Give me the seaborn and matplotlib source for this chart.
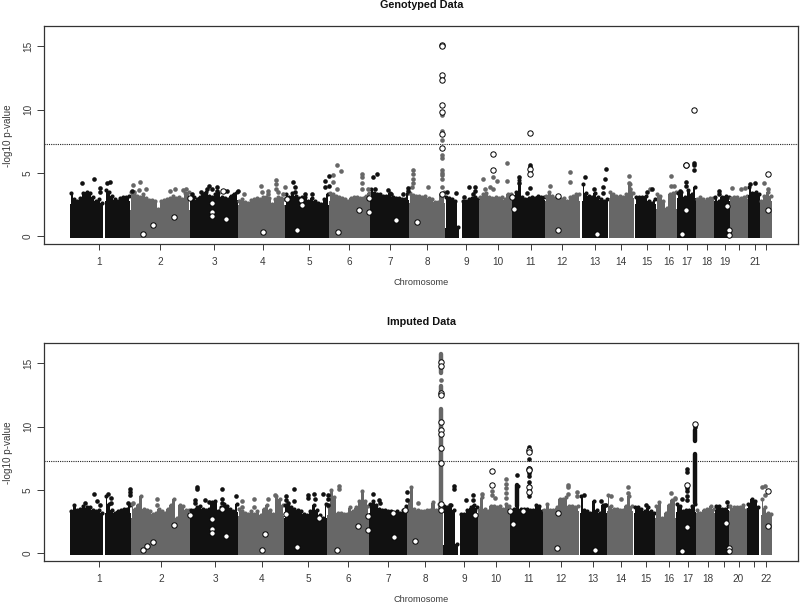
import numpy as np
import pandas as pd
import matplotlib.pyplot as plt
import seaborn as sns

# genome axis is in arbitrary cumulative units, y is -log10 p
chrom_labels = ['1','2','3','4','5','6','7','8','9','10','11','12','13','14','15','16','17','18','19','','21','']
chrom_labels_imp = ['1','2','3','4','5','6','7','8','9','10','11','12','13','14','15','16','17','18','','20','','22']
ticks_geno = [99,160,214,263,309,349,390,427,466,497.5,531,562,595,621,647,669,687,707,725,739,755,766]
ticks_imp = [99,161,215,262,308,348,388,425,464,496,529,561,593,620.5,646,669,687.5,708,724,738.5,754,766]
yticks = [0,5,10,15]
threshold = 7.3

# chromosome number of each contiguous block (1 and 9 have a centromere gap)
seg_chrom = [1,1,2,3,4,5,6,7,8,9,9,10,11,12,13,14,15,16,17,18,19,20,21,22]

geno_start = [70,105,130,189.5,238,285,328.5,370,409,445,462,479,512,545,581.5,608.5,635,656,677,696,714,730,748,760]
geno_end = [103,130,189.5,238,285,328.5,370,409,445,459,479,512,545,580,608,634,656,677,696,714,730,748,760,772]
geno_tops = [
    [3.5,3.0,2.9,3.1,3.5,3.6,3.5,3.2,2.9,3.0,2.7],
    [3.7,3.6,3.3,3.0,2.9,3.1,3.2,3.2,3.3],
    [3.6,3.4,3.3,3.2,3.4,3.1,2.95,2.95,2.9,2.2,2.9,2.95,3.0,3.1,3.3,3.1,3.2,3.0,3.5,3.6],
    [3.0,3.2,3.0,3.2,3.4,3.6,3.3,3.2,3.4,3.5,3.2,3.1,3.0,3.3,3.4,3.6],
    [2.9,3.0,2.8,2.7,2.95,3.0,3.1,3.0,3.2,3.2,3.1,2.6,3.0,3.2,3.1,3.0],
    [3.4,3.2,3.5,3.3,3.1,3.2,3.2,2.9,3.1,2.9,2.7,2.6,3.0,3.4],
    [3.5,3.4,3.3,3.2,3.1,3.0,2.9,3.1,3.2,3.2,3.1,3.1,3.3,3.5],
    [3.8,3.5,3.4,3.4,3.3,3.3,3.5,3.2,3.1,3.1,3.0,3.0,3.5],
    [3.5,3.35,3.3,3.3,3.2,3.3,3.1,3.0,2.8,2.8,3.4,3.6],
    [3.2,3.1,3.0,2.9,0.8],
    [2.9,2.9,3.0,3.1,3.2,3.0],
    [3.2,3.4,3.5,3.2,3.1,3.2,3.1,3.2,3.0,3.4,3.4],
    [3.2,3.6,4.5,3.2,3.0,3.1,3.2,3.1,3.3,3.2,3.2],
    [3.3,3.6,3.3,3.1,3.1,3.0,3.1,2.9,3.2,3.3,3.4,3.4],
    [4.2,3.5,3.3,3.2,3.5,3.2,3.0,2.9,3.0],
    [3.6,3.4,3.3,3.3,3.2,3.4,4.2,3.5],
    [3.2,3.2,3.2,3.3,2.9,2.7,3.0],
    [3.4,3.3,2.9,2.3,3.4,3.5,3.6],
    [3.5,3.6,3.2,3.7,3.4,4.0],
    [3.0,3.2,3.0,3.0,3.1,3.1],
    [3.2,2.9,3.2,3.3,3.2],
    [3.1,3.2,3.2,3.1,3.2,3.3],
    [4.0,3.5,3.6,3.4],
    [2.9,3.3,3.6,3.3],
]

imp_start = [70,105,130.7,189.5,237.5,283.7,327.3,369.3,407.3,443.3,460.3,477.7,510.3,543.3,580,607,634,655,676,696,715,729.3,747.3,760.7]
imp_end = [103,130.7,189.5,237.5,283.7,327.3,369.3,407.3,443.3,458,477.7,510.3,543.3,579,607,632.7,655,676,696,715,729.3,747.3,759.3,772]
imp_tops = [
    [3.4,3.9,3.5,3.6,3.8,3.7,3.7,3.5,3.4,3.5,3.3],
    [4.6,4.0,3.5,3.3,3.4,3.5,3.6,3.6,3.9],
    [4.0,3.6,3.9,4.6,3.6,3.5,3.4,3.2,3.3,3.6,3.4,3.3,3.6,3.9,4.4,2.9,3.9,3.8,3.5,3.5],
    [3.5,3.5,3.7,3.8,3.6,3.5,3.6,4.1,4.2,3.4,3.7,4.0,3.8,3.6,3.4,4.0],
    [3.6,3.4,3.3,3.2,3.4,3.2,3.4,3.1,3.6,3.9,3.5,3.2,4.6,4.4,3.9],
    [3.9,3.8,3.7,3.6,3.5,3.4,3.2,3.1,3.4,3.9,3.5,3.1,2.9,4.0],
    [3.8,5.1,4.5,3.3,3.3,3.2,3.2,3.7,3.4,3.7,4.2,5.0,4.2,3.8],
    [4.0,4.2,3.9,3.6,3.5,3.5,3.4,3.4,3.3,3.4,3.3,3.5,3.8],
    [4.3,5.3,3.6,3.5,3.4,3.4,3.5,3.5,4.1,3.5,4.0,3.8],
    [3.8,3.7,3.9,3.5,0.8],
    [3.2,3.2,3.5,3.7,3.9,3.7],
    [3.5,4.5,3.6,3.4,3.8,3.8,3.7,3.8,3.6,4.0,3.8],
    [3.4,3.6,5.4,3.6,3.6,3.6,3.5,3.5,3.9,3.8,3.4],
    [3.5,4.0,3.5,3.5,3.7,4.4,4.4,4.5,3.8,3.8,3.7,3.8],
    [4.6,3.5,3.4,3.3,4.2,3.5,3.3,3.9,3.9],
    [4.7,3.8,3.6,3.6,3.5,3.5,3.8,4.6,3.8],
    [3.7,3.7,3.6,3.4,3.7,3.4,3.3],
    [3.8,4.1,2.9,3.3,3.9,4.3,4.4],
    [4.0,3.8,3.4,3.5,3.5,3.8,4.0],
    [3.5,3.3,3.5,3.6,3.8,3.6],
    [3.8,3.8,3.6,3.6,3.8],
    [3.8,3.7,3.7,3.7,3.9,3.5],
    [4.0,4.4,4.2,3.7],
    [4.4,3.7,3.3,3.2],
]

# stray SNPs above the main mass
geno_black_x = [82.3,93.7,100,99.7,107,110.3,131.7,191.7,201,209.3,206.7,212,217.3,217.3,226.7,238,293.3,295,295,305,311.7,325,325,329.3,329.3,373.3,376.7,375,388.3,390.7,403,408,408,446.7,455.7,464.3,469.3,475,475,472.7,519,519,530,530,530,526.7,585.3,594,603.3,603.3,604.7,606,647.3,652.3,686,686,694.3,694.3,694.3,680,719,719,755.3,750]
geno_black_y = [4.2,4.5,3.85,3.5,4.2,4.3,3.6,3.35,3.5,4.0,3.7,3.7,3.9,3.6,3.55,3.6,4.3,3.9,3.5,3.3,3.35,4.4,3.9,4.0,4.75,4.7,4.95,3.75,3.65,3.35,3.3,3.85,3.6,3.5,3.45,3.1,3.9,3.9,3.6,3.35,4.7,4.2,5.6,5.45,3.8,3.4,4.7,3.75,3.9,3.4,4.5,5.3,3.5,3.75,4.3,4.0,5.75,5.6,5.25,3.6,3.6,3.3,4.2,4.1]
geno_grey_x = [133,140.3,139.3,145.7,133.7,170,175,182.7,186,244.3,260.7,261.7,268.3,268.3,276,276,276,278.3,285.3,283,337.3,340.7,333.3,333.3,336.7,362.3,362.3,362.3,362.3,368.3,413.3,413.3,413.3,412.7,411.7,428.3,442,442,442,442,442,442,442,442,442,442,483.3,485,492.7,496.7,506.7,506.7,490,493.3,570,570,550,630,630,629.3,629.3,650,670.7,670.7,674,731.7,741,745,764.3,768.3]
geno_grey_y = [4.05,4.25,3.65,3.75,3.5,3.6,3.7,3.65,3.7,3.35,4.0,3.5,3.6,3.35,4.45,4.15,3.75,3.5,3.9,3.3,5.65,5.15,4.8,4.3,3.7,4.9,4.7,4.2,3.7,3.75,5.2,4.95,4.55,4.2,3.9,3.9,9.55,8.3,7.6,6.4,6.15,5.2,5.0,4.8,4.5,3.9,4.5,3.7,4.7,4.35,5.8,4.4,3.9,3.75,5.1,4.25,4.0,3.7,3.5,4.75,4.2,3.7,4.75,4.0,4.0,3.8,3.75,3.85,4.2,3.75]
geno_hit_x = [142.7,152.7,174,190,212,212,212,225.7,222.7,263,297.3,286.7,300.7,301.7,338.3,359,369.3,369.3,396,416.7,442,442,442,442,442,442,442,442,442,492.7,492.7,511.7,513.7,530,530,530,558.3,557.7,596.7,686,686,686,681.7,694.3,726.7,729.3,729.3,768.3,767.7]
geno_hit_y = [0.15,0.87,1.5,3.05,2.65,1.9,1.6,1.4,3.55,0.37,0.53,2.95,2.9,2.5,0.35,2.05,3.0,1.9,1.3,1.13,15.1,15.0,12.75,12.35,10.35,9.8,8.05,6.95,3.35,6.5,5.25,3.1,2.15,8.15,5.3,4.9,3.15,0.5,0.15,5.6,5.6,2.1,0.15,9.95,2.4,0.5,0.1,4.95,2.1]

imp_black_x = [93.7,85.3,97.3,100,107.7,111,111,130,130,130,128.3,197.3,197.3,195.3,195.3,205,221.7,221.7,221.7,236,209.3,286,286,288.3,294.3,294.3,308.3,308.3,313.7,315,323.3,328.3,328.3,328.3,372.7,379.3,380,407.3,407.3,454,454,450,465.7,473.3,473.3,517.3,528.7,528.7,528.7,528.7,528.7,528.7,528.7,528.7,528.7,528.7,583.7,601.3,605,646,686.7,686.7,686.7,686.7,686.7,686.7,681.7,695,726.7]
imp_black_y = [4.65,4.0,4.1,3.8,4.65,4.4,4.0,5.1,4.85,4.6,4.0,5.25,5.1,4.2,4.0,4.2,5.1,4.3,4.0,4.5,4.05,4.55,4.2,4.0,5.1,4.1,4.6,4.35,4.65,4.3,4.7,4.6,4.25,3.85,4.7,4.2,4.0,4.85,4.2,5.3,5.1,3.85,4.2,4.6,4.2,6.15,8.4,8.0,7.45,6.75,6.35,6.1,5.65,5.3,4.9,4.55,4.6,4.1,3.85,3.8,6.65,6.4,5.15,4.9,4.5,4.2,4.25,10.0,4.05]
imp_grey_x = [157,157,133.3,241.7,241.7,254,254,268.3,275,339,339,418.3,440.7,481.7,495,505.7,505.7,505.7,505.7,505.7,492.3,492.3,568.3,568.3,568.3,576.7,576.7,610.7,620.7,628,628,670.7,675,762.3,765,765]
imp_grey_y = [4.3,3.85,4.0,4.15,3.65,4.25,3.65,4.25,4.6,5.35,5.1,4.0,13.7,4.7,4.35,5.9,5.5,5.15,4.75,4.35,4.9,4.6,5.4,5.2,4.7,4.8,4.55,4.5,4.25,5.25,4.75,4.75,4.35,5.25,5.35,4.6]
imp_hit_x = [142.7,147.3,153.3,174,190,212,212,212,221.7,225.7,262,265.3,286,296.7,319,336.7,357.7,368.3,368.3,394.3,392.7,415,404.7,475,522.7,440.7,440.7,440.7,440.7,440.7,440.7,440.7,440.7,440.7,440.7,440.7,492.3,492.3,510,513,528.7,528.7,528.7,528.7,528.7,528.7,557.7,557,595,686.7,686.7,681.7,695,726,729.3,729.3,768.3,767.7]
imp_hit_y = [0.25,0.6,0.9,2.25,3.0,2.7,1.95,1.6,3.5,1.35,0.3,1.5,3.1,0.5,2.75,0.3,2.15,2.95,1.85,1.3,3.2,1.0,3.45,3.0,3.35,15.1,14.8,12.65,12.5,10.4,9.75,9.45,8.3,7.15,3.9,3.45,6.5,5.4,3.35,2.35,8.15,8.0,6.65,6.55,5.25,4.85,3.2,0.45,0.25,5.4,2.1,0.2,10.2,2.4,0.45,0.2,4.9,2.15]

# dense stacks of SNPs at the big loci: x, low, high, colour index
imp_stack_x = [440.7,440.7,440.7,517.3,695,695]
imp_stack_low = [14.2,12.5,3.5,3.7,4.0,8.9]
imp_stack_high = [15.7,13.2,11.4,5.4,7.8,9.75]
imp_stack_dark = [False,False,False,True,True,True]

BLACK = '#111111'
GREY = '#676767'
TEXT = '#3a3a3a'


def panel(ax, title, starts, ends, tops, bx, by, gx, gy, hx, hy, ticks, labels, stacks=None):
    for chrom, x0, x1, top in zip(seg_chrom, starts, ends, tops):
        col = BLACK if chrom % 2 else GREY
        xs = np.linspace(x0 + 1, x1 - 1, len(top))
        ax.fill_between(xs, -0.12, np.array(top) - 0.1, step='mid', color=col, lw=0, zorder=2)
        # dots along the upper edge so the skyline has the lumpy look
        edge = pd.DataFrame({'pos': xs, 'p': np.array(top) - 0.08})
        sns.scatterplot(data=edge, x='pos', y='p', ax=ax, color=col, s=9, linewidth=0, zorder=2)
        ax.fill_between([x0, x1], -0.12, min(top) - 0.15, color=col, lw=0, zorder=2)

    if stacks:
        for x, lo, hi, dark in zip(*stacks):
            ax.vlines(x, lo, hi, color=BLACK if dark else GREY, lw=3.2, capstyle='round', zorder=3)

    sns.scatterplot(x=gx, y=gy, ax=ax, color=GREY, s=11, linewidth=0, zorder=3)
    sns.scatterplot(x=bx, y=by, ax=ax, color=BLACK, s=11, linewidth=0, zorder=3)
    sns.scatterplot(x=hx, y=hy, ax=ax, color='white', edgecolor='black', s=15, linewidth=0.7, zorder=4)
    ax.axhline(threshold, color='#222222', lw=0.8, ls=(0, (1, 1)), zorder=1)

    ax.set_xlim(44.3, 798.3)
    ax.set_ylim(-0.63, 16.57)
    ax.set_xticks(ticks)
    ax.set_xticklabels(labels)
    ax.set_yticks(yticks)
    ax.tick_params(axis='x', length=4.2, width=0.7, color=TEXT, labelcolor=TEXT, labelsize=7.2, pad=5, bottom=True)
    ax.tick_params(axis='y', length=4.8, width=0.7, color=TEXT, labelcolor=TEXT, labelsize=7.2, pad=3.5, left=True)
    for t in ax.get_yticklabels():
        t.set_rotation(90)
        t.set_va('center')
    for s in ax.spines.values():
        s.set_color('#333333')
        s.set_linewidth(0.9)
    ax.set_xlabel('Chromosome', fontsize=6.6, color=TEXT, labelpad=7.6)
    ax.set_ylabel('-log10 p-value', fontsize=7.1, color=TEXT, labelpad=7)
    ax.set_title(title, fontsize=7.8, fontweight='bold', color='#111111', pad=13)


sns.set_style('white')
plt.rcParams['font.family'] = ['Liberation Sans', 'DejaVu Sans']

f = plt.figure(figsize=(8, 6.03), dpi=100)
W, H = 800, 603
ax1 = f.add_axes([44.3 / W, 1 - 244.3 / H, 754 / W, 218 / H])
ax2 = f.add_axes([44.3 / W, 1 - 561.3 / H, 754 / W, 218 / H])

panel(ax1, 'Genotyped Data', geno_start, geno_end, geno_tops,
      geno_black_x, geno_black_y, geno_grey_x, geno_grey_y, geno_hit_x, geno_hit_y,
      ticks_geno, chrom_labels)
panel(ax2, 'Imputed Data', imp_start, imp_end, imp_tops,
      imp_black_x, imp_black_y, imp_grey_x, imp_grey_y, imp_hit_x, imp_hit_y,
      ticks_imp, chrom_labels_imp,
      stacks=(imp_stack_x, imp_stack_low, imp_stack_high, imp_stack_dark))

f.savefig('out.png', dpi=100)
